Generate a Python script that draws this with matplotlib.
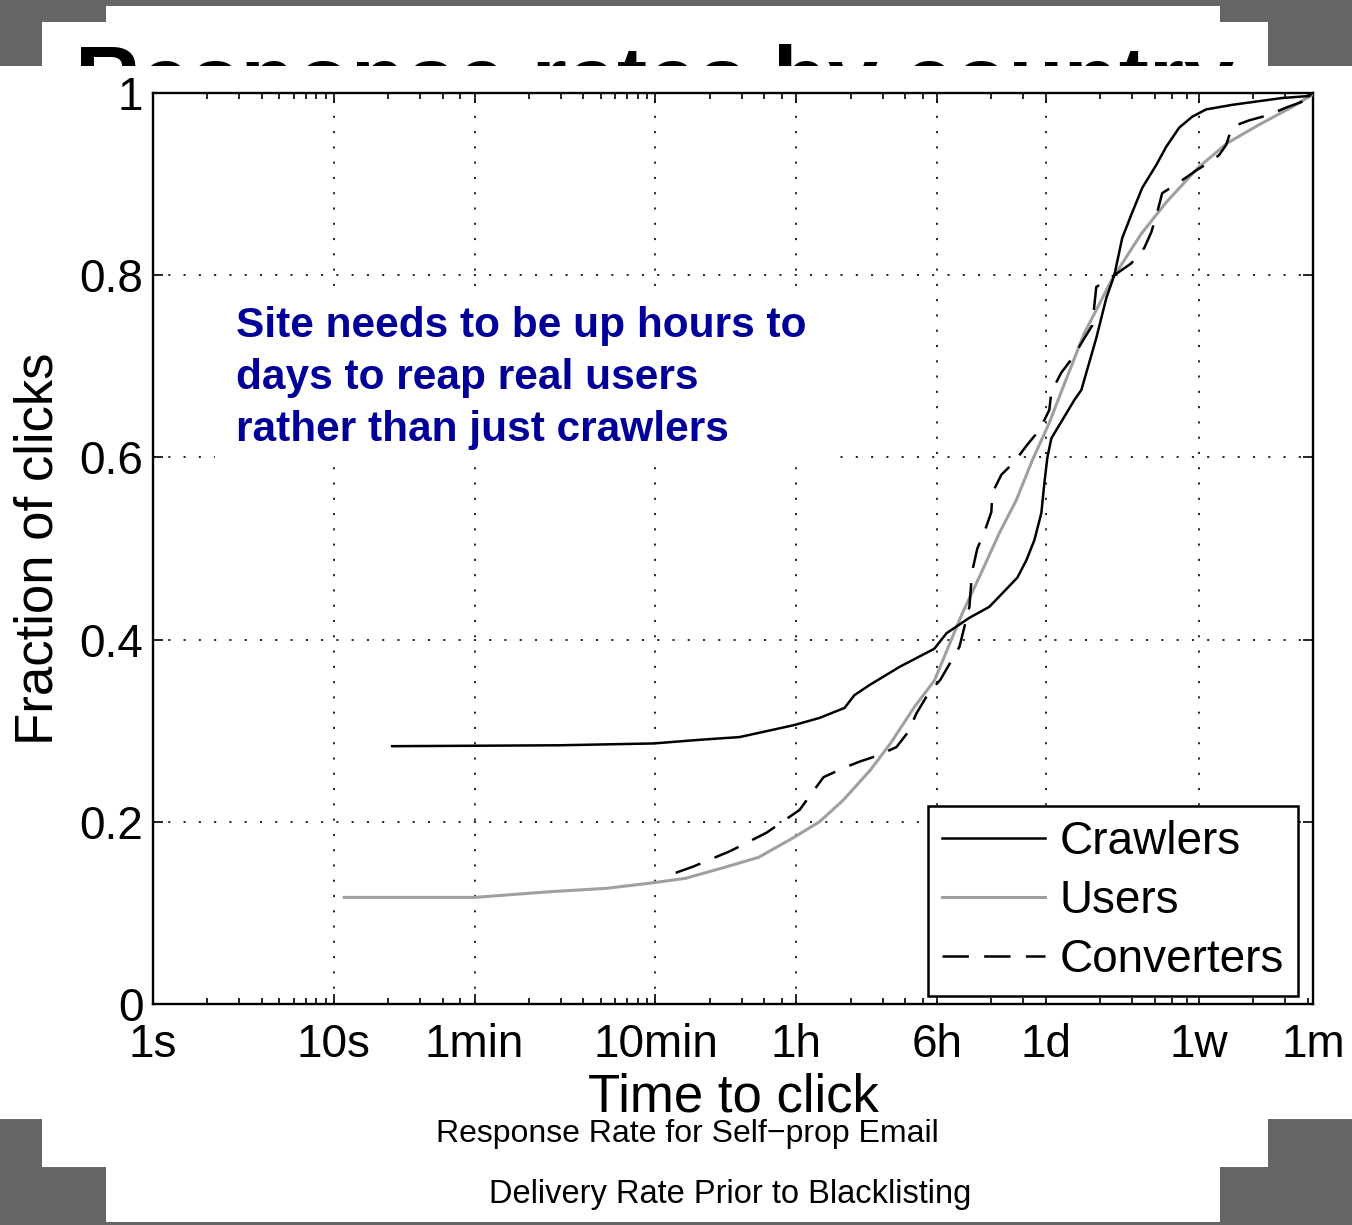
import matplotlib
matplotlib.use('Agg')
import matplotlib.pyplot as plt
from matplotlib.patches import Rectangle

plt.rcParams['font.family'] = ['Liberation Sans', 'DejaVu Sans']
plt.rcParams['lines.scale_dashes'] = False

# time to click (seconds) and fraction of clicks
crawler_t = [21, 177, 586, 1052, 1750, 3480, 4840, 6660, 7550, 9140, 13400, 20900,
             24400, 32700, 42100, 60100, 67400, 74600, 81600, 84800, 88100, 92700,
             106600, 124200, 135800, 164200, 186600, 206600, 228600, 259600, 295000,
             352500, 400000, 472000, 557000, 665600, 926000, 1750000, 2467000, 2564000]
crawler_y = [0.283, 0.284, 0.286, 0.290, 0.293, 0.306, 0.314, 0.325, 0.339, 0.350, 0.370, 0.390,
             0.407, 0.424, 0.436, 0.468, 0.487, 0.509, 0.539, 0.572, 0.600, 0.621,
             0.641, 0.663, 0.674, 0.731, 0.775, 0.800, 0.841, 0.869, 0.896,
             0.921, 0.941, 0.962, 0.974, 0.982, 0.987, 0.9945, 0.9967, 1.0]

users_t = [11.4, 60, 150, 322, 578, 881, 1445, 2230, 3435, 4840, 6570, 9270, 11950,
           16200, 20900, 29850, 37100, 47800, 59300, 72800, 90300, 105200, 140000,
           200000, 290000, 400000, 600000, 870000, 1300000, 2000000, 2564000]
users_y = [0.117, 0.117, 0.123, 0.127, 0.133, 0.138, 0.150, 0.161, 0.182, 0.200, 0.224, 0.257, 0.286,
           0.326, 0.355, 0.429, 0.469, 0.517, 0.553, 0.597, 0.638, 0.672, 0.735,
           0.795, 0.845, 0.880, 0.918, 0.945, 0.965, 0.985, 0.998]

conv_t = [776, 975, 1560, 2466, 3755, 4375, 5097, 6573, 8054, 10260, 12890, 15030, 16630,
          19380, 22570, 28750, 30650, 32650, 33500, 33920, 36120, 39500, 43170, 43730,
          49060, 57840, 68230, 79570, 90300, 92700, 105200, 121000, 137400, 156000,
          164200, 206600, 256400, 302500, 330600, 356700, 380000, 472000, 586000,
          718000, 785000, 858000, 926000, 1151000, 1484000, 1841000, 2375000, 2564000]
conv_y = [0.144, 0.151, 0.168, 0.188, 0.213, 0.231, 0.249, 0.259, 0.266, 0.273, 0.282, 0.299, 0.319,
          0.341, 0.356, 0.392, 0.414, 0.436, 0.465, 0.476, 0.500, 0.518, 0.540, 0.561,
          0.581, 0.595, 0.614, 0.630, 0.652, 0.672, 0.693, 0.709, 0.727, 0.745,
          0.787, 0.800, 0.813, 0.830, 0.847, 0.869, 0.890, 0.902, 0.915,
          0.926, 0.932, 0.943, 0.963, 0.970, 0.976, 0.984, 0.992, 1.0]

tick_secs = [1, 10, 60, 600, 3600, 21600, 86400, 604800, 2592000]
tick_names = ['1s', '10s', '1min', '10min', '1h', '6h', '1d', '1w', '1m']
minor_secs = ([k for k in range(2, 10)] + [10 * k for k in range(2, 6)] +
              [60 * k for k in range(2, 10)] + [600 * k for k in range(2, 6)] +
              [3600 * k for k in range(2, 6)] + [21600 * k for k in range(2, 4)] +
              [86400 * k for k in range(2, 7)] + [604800 * k for k in range(2, 5)])

note_lines = ['Site needs to be up hours to', 'days to reap real users',
              'rather than just crawlers']

W, H = 1352, 1225


def fx(px):
    return px / W


def fy(py):
    return 1 - py / H


fig = plt.figure(figsize=(W / 100, H / 100), dpi=100)
fig.patch.set_facecolor('#666666')

# white slide pieces behind the pasted chart
for x0, y0, x1, y1 in [(106, 6, 1220, 70), (42, 22, 1268, 70),
                       (42, 1110, 1268, 1167), (106, 1110, 1220, 1222)]:
    fig.add_artist(Rectangle((fx(x0), fy(y1)), fx(x1) - fx(x0), fy(y0) - fy(y1),
                             transform=fig.transFigure, fc='white', ec='none', zorder=-3))

fig.text(fx(75), fy(110), 'Response rates by country', fontsize=65, fontweight='bold',
         ha='left', va='baseline', zorder=-2)

fig.add_artist(Rectangle((0, fy(1119)), 1, fy(66) - fy(1119), transform=fig.transFigure,
                         fc='white', ec='none', zorder=-1))

ax = fig.add_axes([fx(153), fy(1004), fx(1313) - fx(153), fy(93) - fy(1004)])
ax.set_xscale('log')

ax.plot(crawler_t, crawler_y, color='black', lw=1.8, label='Crawlers', zorder=4)
ax.plot(users_t, users_y, color='#a0a0a0', lw=2.2, label='Users', zorder=3)
ax.plot(conv_t, conv_y, color='black', lw=1.8, ls=(0, (19, 11)), label='Converters', zorder=5)

ax.set_xlim(1, 2592000)
ax.set_ylim(0, 1)
ax.set_xticks(tick_secs)
ax.set_xticklabels(tick_names)
ax.set_xticks(minor_secs, minor=True)
ax.xaxis.set_minor_formatter(plt.NullFormatter())
ax.set_yticks([0, 0.2, 0.4, 0.6, 0.8, 1])
ax.set_yticklabels(['0', '0.2', '0.4', '0.6', '0.8', '1'])
ax.tick_params(which='both', direction='in', top=True, right=True, labelsize=33, width=1.2)
ax.tick_params(which='major', length=7.5)
ax.tick_params(which='minor', length=4.5)
ax.tick_params(axis='x', pad=13.5)
ax.tick_params(axis='y', pad=7)
for s in ax.spines.values():
    s.set_linewidth(1.7)
ax.grid(True, which='major', color='black', lw=1.2, ls=(0, (1.5, 9.5)))

ax.set_xlabel('Time to click', fontsize=38, va='center')
ax.xaxis.set_label_coords(0.5, -0.1025)
ax.set_ylabel('Fraction of clicks', fontsize=38, va='center')
ax.yaxis.set_label_coords(-0.0985, 0.5)

# white box behind the note
ax.add_patch(Rectangle((fx(215), fy(462)), fx(840) - fx(215), fy(292) - fy(462),
                       transform=fig.transFigure, fc='white', ec='none', zorder=2))
for i, line in enumerate(note_lines):
    ax.text(fx(236), fy(337 + 52 * i), line, transform=fig.transFigure, color='#000099',
            fontsize=30.5, fontweight='bold', ha='left', va='baseline', zorder=6)

leg = ax.legend(loc='upper left', bbox_to_anchor=(fx(928), fy(806)),
                bbox_transform=fig.transFigure, borderaxespad=0, fontsize=33,
                fancybox=False, framealpha=1, edgecolor='black', handlelength=2.25,
                handletextpad=0.32, labelspacing=0.33, borderpad=0.3)
leg.get_frame().set_linewidth(1.8)

fig.text(fx(687), fy(1134), 'Response Rate for Self\u2212prop Email', fontsize=23,
         ha='center', va='center', zorder=3)
fig.text(fx(730), fy(1194), 'Delivery Rate Prior to Blacklisting', fontsize=23.5,
         ha='center', va='center', zorder=3)

fig.savefig('out.png', dpi=100, facecolor=fig.get_facecolor())
